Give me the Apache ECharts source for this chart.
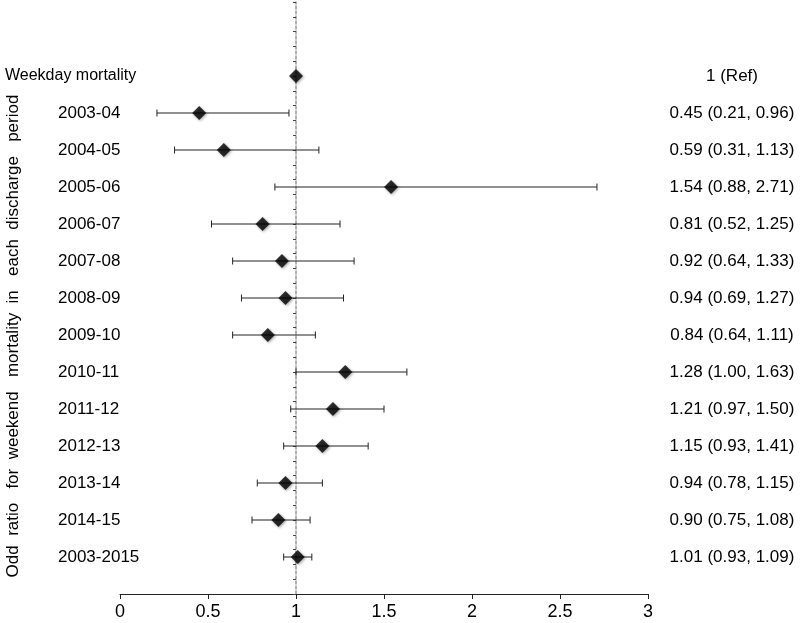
<!DOCTYPE html>
<html>
<head>
<meta charset="utf-8">
<script src="https://cdn.jsdelivr.net/npm/echarts@6/dist/echarts.min.js"></script>
<style>
html,body{margin:0;padding:0;background:#fff;}
#chart{width:800px;height:623px;}
</style>
</head>
<body>
<div id="chart"></div>
<script>
// ---- data ----
var rowLabels = ['Weekday mortality','2003-04','2004-05','2005-06','2006-07','2007-08','2008-09','2009-10','2010-11','2011-12','2012-13','2013-14','2014-15','2003-2015'];
var rowPos = [35, 32.5, 30, 27.5, 25, 22.5, 20, 17.5, 15, 12.5, 10, 7.5, 5, 2.5];
var oddRatio = [1, 0.45, 0.59, 1.54, 0.81, 0.92, 0.94, 0.84, 1.28, 1.21, 1.15, 0.94, 0.90, 1.01];
var ciLow = [null, 0.21, 0.31, 0.88, 0.52, 0.64, 0.69, 0.64, 1.00, 0.97, 0.93, 0.78, 0.75, 0.93];
var ciHigh = [null, 0.96, 1.13, 2.71, 1.25, 1.33, 1.27, 1.11, 1.63, 1.50, 1.41, 1.15, 1.08, 1.09];
var rightText = ['1 (Ref)','0.45 (0.21, 0.96)','0.59 (0.31, 1.13)','1.54 (0.88, 2.71)','0.81 (0.52, 1.25)','0.92 (0.64, 1.33)','0.94 (0.69, 1.27)','0.84 (0.64, 1.11)','1.28 (1.00, 1.63)','1.21 (0.97, 1.50)','1.15 (0.93, 1.41)','0.94 (0.78, 1.15)','0.90 (0.75, 1.08)','1.01 (0.93, 1.09)'];
var xTicks = [0, 0.5, 1, 1.5, 2, 2.5, 3];
var yTitle = 'Odd  ratio   for  weekend   mortality  in   each  discharge   period';

var FONT = '"Liberation Sans", Arial, sans-serif';

function rowIndex(v){
  for (var i = 0; i < rowPos.length; i++) if (Math.abs(rowPos[i] - v) < 1e-6) return i;
  return -1;
}

var scatterData = oddRatio.map(function(v, i){ return [v, rowPos[i]]; });
var errData = [];
for (var i = 0; i < rowPos.length; i++) {
  if (ciLow[i] != null) errData.push([ciLow[i], ciHigh[i], rowPos[i]]);
}

var chart = echarts.init(document.getElementById('chart'), null, {renderer:'canvas'});
chart.setOption({
  animation: false,
  backgroundColor: '#fff',
  grid: {left: 120, right: 152, top: 2, bottom: 29, containLabel: false},
  xAxis: [{
    type: 'value', min: 0, max: 3, interval: 0.5,
    axisLine: {show: true, onZero: false, lineStyle: {color: '#222', width: 1}},
    axisTick: {show: true, length: 5, lineStyle: {color: '#222'}},
    axisLabel: {fontSize: 18, color: '#000', fontFamily: FONT, margin: 9,
      formatter: function(v){ return xTicks.indexOf(v) >= 0 ? String(v) : ''; }},
    splitLine: {show: false}
  }, {
    type: 'value', min: -1, max: 2, show: false,
    axisLine: {onZero: false}
  }],
  yAxis: [{
    type: 'value', min: 0, max: 40, interval: 1,
    axisLine: {show: true, onZero: true, onZeroAxisIndex: 1, lineStyle: {color: '#999', type: [3, 2], width: 1.5}},
    axisTick: {show: true, length: 3, lineStyle: {color: '#444', width: 1}},
    axisLabel: {show: false},
    splitLine: {show: false}
  }, {
    type: 'value', min: 0, max: 40, interval: 2.5, position: 'left',
    axisLine: {show: false}, axisTick: {show: false}, splitLine: {show: false},
    axisLabel: {
      show: true, align: 'left', margin: 115, color: '#000', fontSize: 17, fontFamily: FONT,
      formatter: function(v){
        var i = rowIndex(v);
        if (i < 0) return '';
        return i === 0 ? '{w|' + rowLabels[i] + '}' : '{p|' + rowLabels[i] + '}';
      },
      rich: {
        w: {fontSize: 16, color: '#000', fontFamily: FONT},
        p: {padding: [0, 0, 0, 53], fontSize: 17, color: '#000', fontFamily: FONT}
      }
    }
  }, {
    type: 'value', min: 0, max: 40, interval: 2.5, position: 'right',
    axisLine: {show: false}, axisTick: {show: false}, splitLine: {show: false},
    axisLabel: {
      show: true, align: 'center', margin: 84, color: '#000', fontSize: 17, fontFamily: FONT,
      formatter: function(v){ var i = rowIndex(v); return i < 0 ? '' : rightText[i]; }
    }
  }],
  graphic: [{
    type: 'text', x: 13, y: 336, rotation: Math.PI / 2,
    style: {text: yTitle, fill: '#000', font: '17px ' + FONT, textAlign: 'center', textVerticalAlign: 'middle'}
  }],
  series: [{
    type: 'custom', xAxisIndex: 0, yAxisIndex: 0, data: errData,
    renderItem: function(params, api){
      var p1 = api.coord([api.value(0), api.value(2)]);
      var p2 = api.coord([api.value(1), api.value(2)]);
      var cap = 3.5;
      var st = {stroke: '#222', lineWidth: 1};
      return {type: 'group', children: [
        {type: 'line', shape: {x1: p1[0], y1: p1[1], x2: p2[0], y2: p2[1]}, style: st},
        {type: 'line', shape: {x1: p1[0], y1: p1[1] - cap, x2: p1[0], y2: p1[1] + cap}, style: st},
        {type: 'line', shape: {x1: p2[0], y1: p2[1] - cap, x2: p2[0], y2: p2[1] + cap}, style: st}
      ]};
    },
    z: 2
  }, {
    type: 'scatter', xAxisIndex: 0, yAxisIndex: 0, data: scatterData,
    symbol: 'diamond', symbolSize: 14,
    itemStyle: {color: '#000', shadowBlur: 3, shadowColor: 'rgba(0,0,0,0.45)', shadowOffsetX: 1, shadowOffsetY: 1},
    z: 3
  }]
});
</script>
</body>
</html>
